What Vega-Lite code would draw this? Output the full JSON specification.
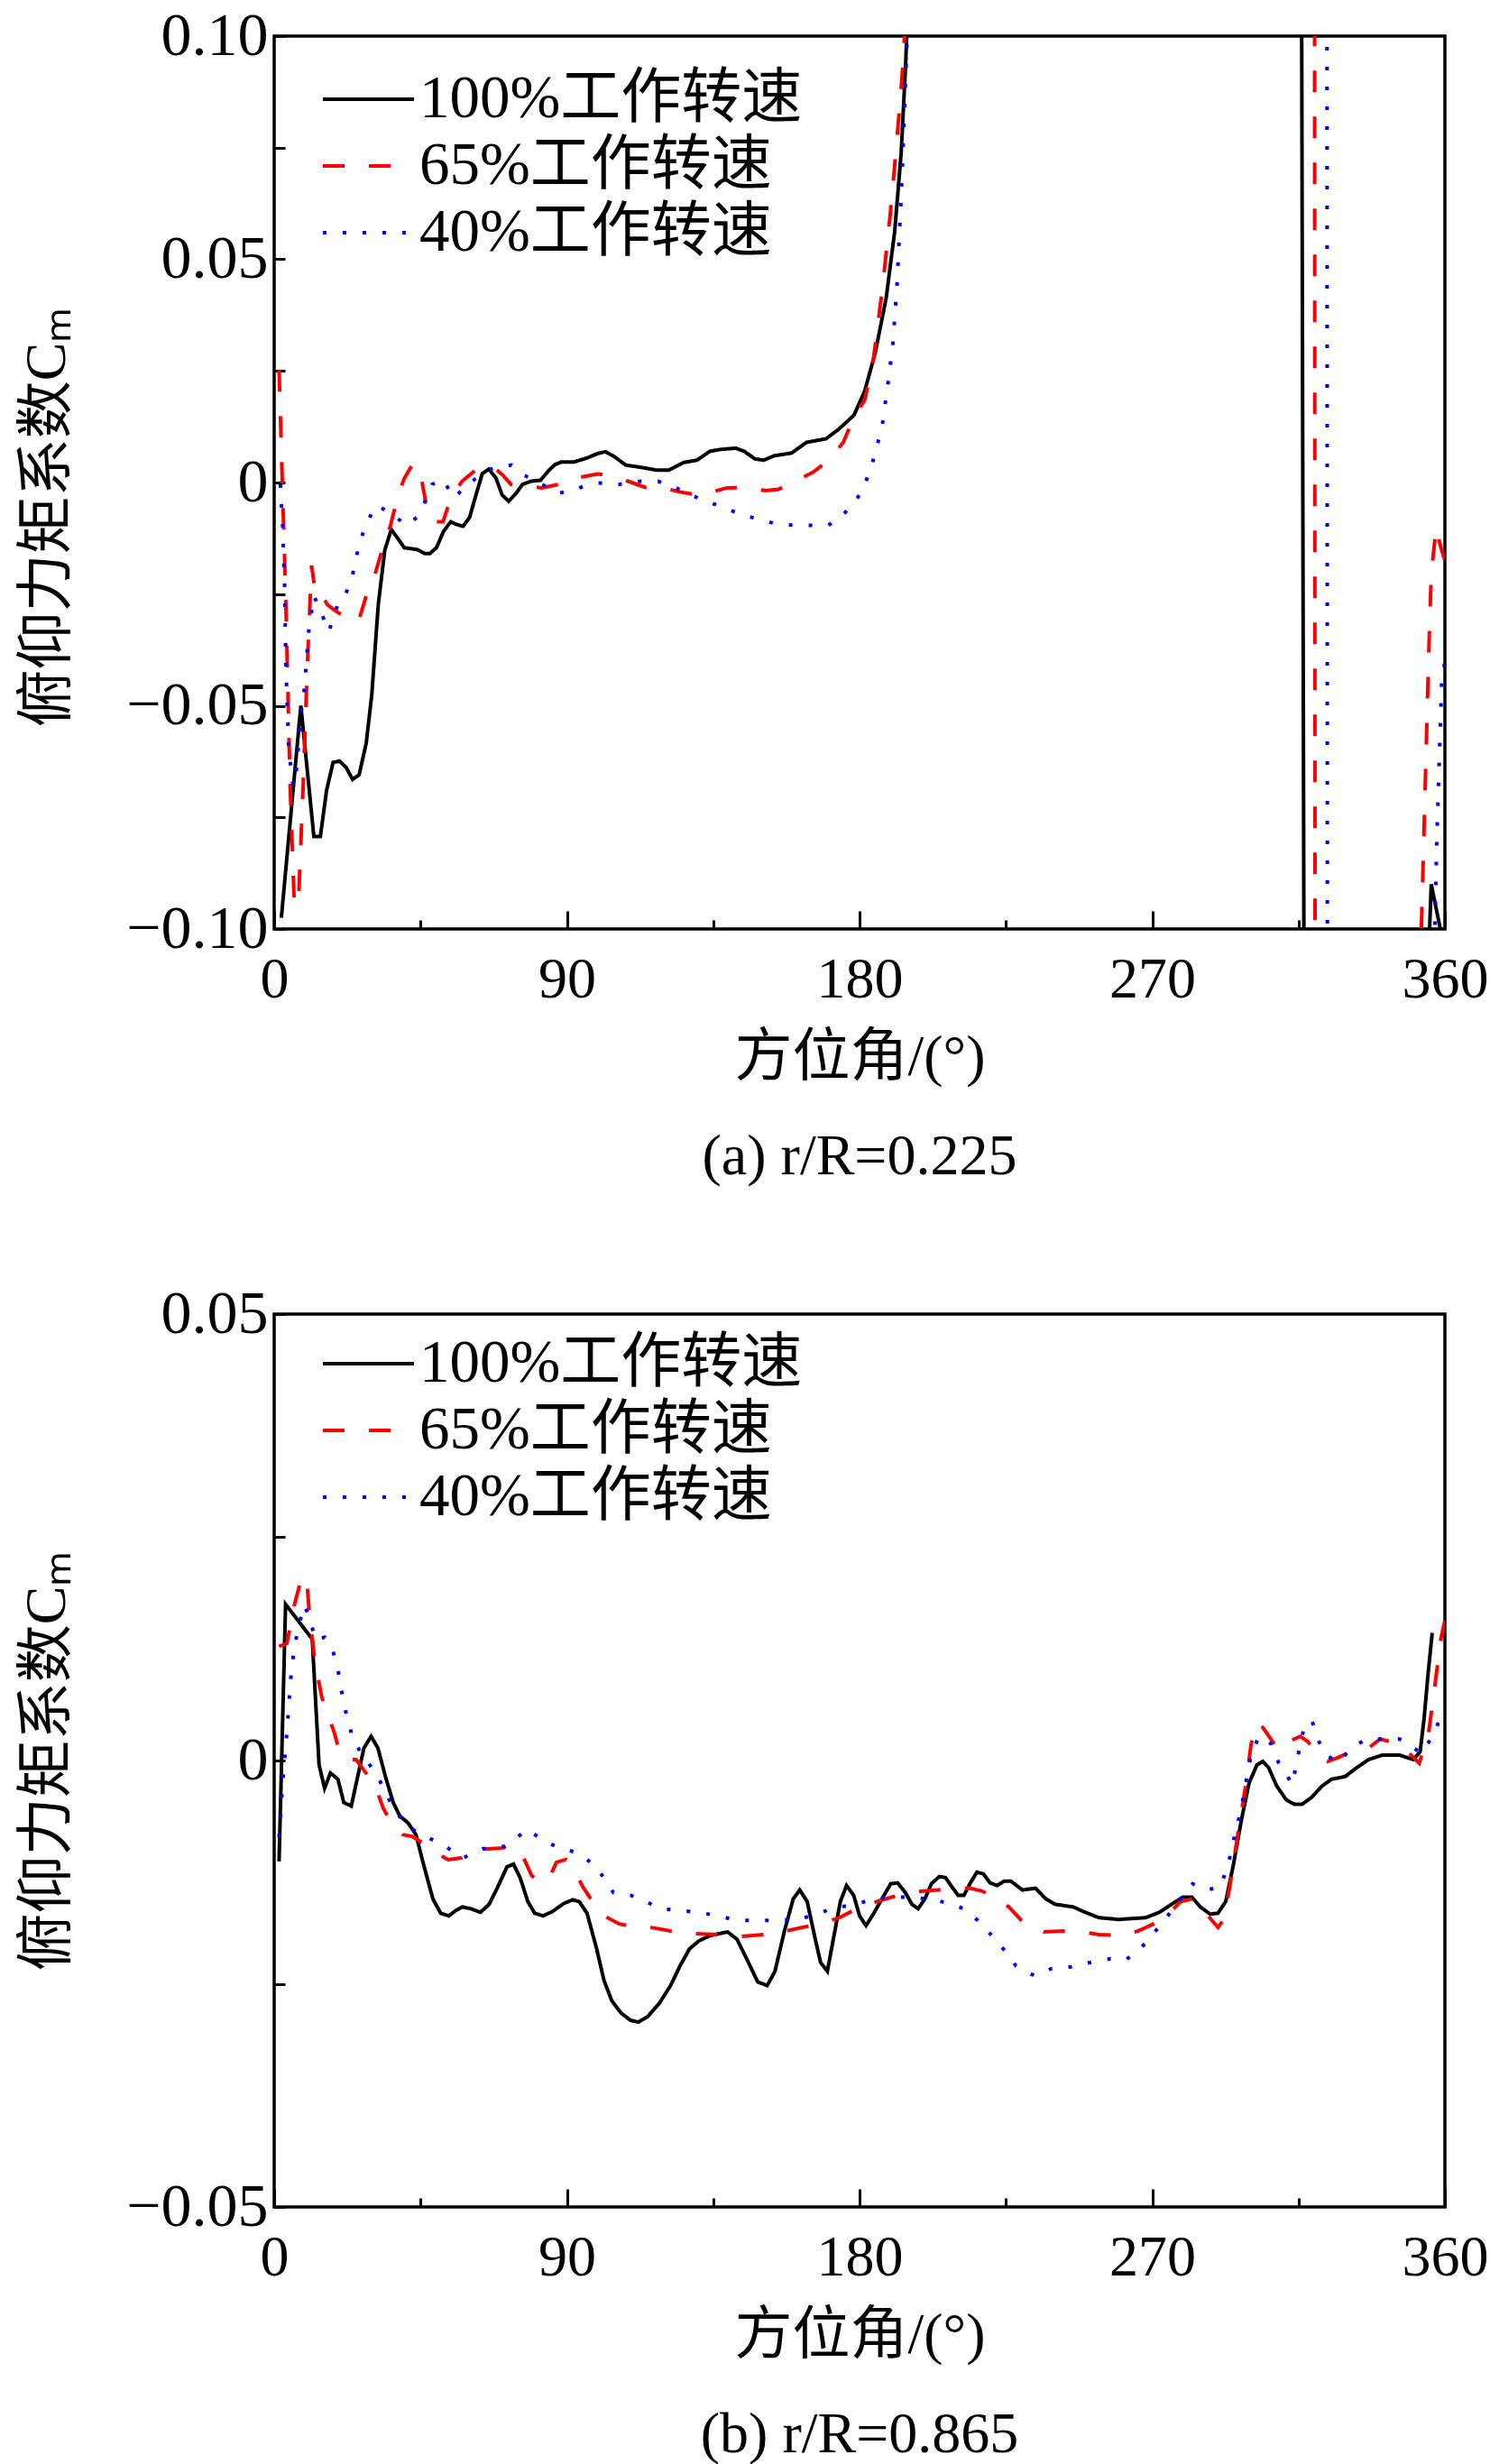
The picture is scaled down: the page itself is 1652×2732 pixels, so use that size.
{
  "$schema": "https://vega.github.io/schema/vega-lite/v6.json",
  "background": "white",
  "padding": {"left": 18, "top": 4, "right": 20, "bottom": 10},
  "bounds": "flush",
  "spacing": 427,
  "config": {
    "font": "Liberation Serif",
    "view": {"stroke": "black", "strokeWidth": 3.5},
    "axis": {
      "domain": false, "grid": false,
      "labelFont": "Liberation Serif", "labelFontSize": 64, "labelColor": "black",
      "titleFont": "Liberation Serif, Noto Sans CJK SC", "titleFontSize": 64, "titleFontWeight": "normal", "titleColor": "black",
      "tickColor": "black", "tickWidth": 3,
      "labelOverlap": false, "labelFlush": false, "labelBound": false
    },
    "axisY": {"labelFontSize": 68},
    "legend": {
      "orient": "none", "legendX": 52, "legendY": 33, "title": null, "padding": 0,
      "symbolType": "stroke", "symbolSize": 10201, "symbolStrokeWidth": 4,
      "labelFont": "Liberation Serif, Noto Sans CJK SC", "labelFontSize": 67, "labelColor": "black",
      "labelOffset": 4, "rowPadding": 0, "clipHeight": 74, "labelLimit": 0
    },
    "title": {"font": "Liberation Serif", "fontSize": 64, "fontWeight": "normal", "color": "black"}
  },
  "resolve": {"scale": {"x": "independent", "y": "independent", "color": "independent", "strokeDash": "independent"}},
  "datasets": {
    "top": [
      {"s":"100%工作转速","a":2.2,"v":-0.0975},{"s":"100%工作转速","a":8.2,"v":-0.05},{"s":"100%工作转速","a":12.2,"v":-0.0793},{"s":"100%工作转速","a":14.2,"v":-0.0793},{"s":"100%工作转速","a":16.1,"v":-0.069},{"s":"100%工作转速","a":18.1,"v":-0.0627},{"s":"100%工作转速","a":20.1,"v":-0.0624},{"s":"100%工作转速","a":22.1,"v":-0.0638},{"s":"100%工作转速","a":24.1,"v":-0.0665},{"s":"100%工作转速","a":26.1,"v":-0.0655},{"s":"100%工作转速","a":28.3,"v":-0.0584},{"s":"100%工作转速","a":30,"v":-0.0476},{"s":"100%工作转速","a":32,"v":-0.0274},{"s":"100%工作转速","a":34,"v":-0.0152},{"s":"100%工作转速","a":36,"v":-0.0105},{"s":"100%工作转速","a":38,"v":-0.0125},{"s":"100%工作转速","a":40,"v":-0.0146},{"s":"100%工作转速","a":43.9,"v":-0.015},{"s":"100%工作转速","a":46.3,"v":-0.0159},{"s":"100%工作转速","a":47.9,"v":-0.0159},{"s":"100%工作转速","a":49.9,"v":-0.0146},{"s":"100%工作转速","a":52.1,"v":-0.0109},{"s":"100%工作转速","a":54.3,"v":-0.0088},{"s":"100%工作转速","a":56.1,"v":-0.0094},{"s":"100%工作转速","a":58.1,"v":-0.0098},{"s":"100%工作转速","a":60.1,"v":-0.0078},{"s":"100%工作转速","a":62.2,"v":-0.0024},{"s":"100%工作转速","a":64,"v":0.002},{"s":"100%工作转速","a":66,"v":0.003},{"s":"100%工作转速","a":68.2,"v":0.001},{"s":"100%工作转速","a":70.1,"v":-0.0028},{"s":"100%工作转速","a":72.1,"v":-0.0042},{"s":"100%工作转速","a":74.4,"v":-0.0024},{"s":"100%工作转速","a":76.4,"v":-0.0004},{"s":"100%工作转速","a":79,"v":0.0003},{"s":"100%工作转速","a":81.9,"v":0.0005},{"s":"100%工作转速","a":84.3,"v":0.0026},{"s":"100%工作转速","a":86.3,"v":0.004},{"s":"100%工作转速","a":88.3,"v":0.0046},{"s":"100%工作转速","a":92.2,"v":0.0046},{"s":"100%工作转速","a":96.2,"v":0.0055},{"s":"100%工作转速","a":99.5,"v":0.0065},{"s":"100%工作转速","a":101.9,"v":0.0069},{"s":"100%工作转速","a":104.8,"v":0.0057},{"s":"100%工作转速","a":108.1,"v":0.0039},{"s":"100%工作转速","a":112.8,"v":0.0034},{"s":"100%工作转速","a":117.4,"v":0.0028},{"s":"100%工作转速","a":121.4,"v":0.0028},{"s":"100%工作转速","a":126,"v":0.0045},{"s":"100%工作转速","a":130,"v":0.005},{"s":"100%工作转速","a":134,"v":0.007},{"s":"100%工作转速","a":137.2,"v":0.0074},{"s":"100%工作转速","a":141.9,"v":0.0077},{"s":"100%工作转速","a":144.5,"v":0.007},{"s":"100%工作转速","a":147.8,"v":0.0053},{"s":"100%工作转速","a":150.5,"v":0.005},{"s":"100%工作转速","a":153.8,"v":0.006},{"s":"100%工作转速","a":159.1,"v":0.0066},{"s":"100%工作转速","a":163.7,"v":0.009},{"s":"100%工作转速","a":169.7,"v":0.0098},{"s":"100%工作转速","a":173.7,"v":0.012},{"s":"100%工作转速","a":178.3,"v":0.0151},{"s":"100%工作转速","a":181.6,"v":0.0205},{"s":"100%工作转速","a":184.9,"v":0.0293},{"s":"100%工作转速","a":188.2,"v":0.0414},{"s":"100%工作转速","a":190.8,"v":0.0562},{"s":"100%工作转速","a":192.8,"v":0.0738},{"s":"100%工作转速","a":194.2,"v":0.094},{"s":"100%工作转速","a":195.5,"v":0.12},{"s":"100%工作转速","a":315.8,"v":0.15},{"s":"100%工作转速","a":316.8,"v":-0.15},{"s":"100%工作转速","a":354.3,"v":-0.12},{"s":"100%工作转速","a":355.8,"v":-0.09},{"s":"100%工作转速","a":358.6,"v":-0.1},{"s":"100%工作转速","a":360,"v":-0.115},
      {"s":"65%工作转速","a":1.5,"v":0.0252},{"s":"65%工作转速","a":3.6,"v":-0.0274},{"s":"65%工作转速","a":4.9,"v":-0.068},{"s":"65%工作转速","a":6.2,"v":-0.0948},{"s":"65%工作转速","a":7.5,"v":-0.0935},{"s":"65%工作转速","a":8.9,"v":-0.068},{"s":"65%工作转速","a":10.2,"v":-0.041},{"s":"65%工作转速","a":11.5,"v":-0.0186},{"s":"65%工作转速","a":12.8,"v":-0.0254},{"s":"65%工作转速","a":14.8,"v":-0.0254},{"s":"65%工作转速","a":16.4,"v":-0.0274},{"s":"65%工作转速","a":18.8,"v":-0.0287},{"s":"65%工作转速","a":22.1,"v":-0.0303},{"s":"65%工作转速","a":24.4,"v":-0.0314},{"s":"65%工作转速","a":26.1,"v":-0.0307},{"s":"65%工作转速","a":28.3,"v":-0.0254},{"s":"65%工作转速","a":30.7,"v":-0.0213},{"s":"65%工作转速","a":33.4,"v":-0.0146},{"s":"65%工作转速","a":35.7,"v":-0.0098},{"s":"65%工作转速","a":38,"v":-0.0031},{"s":"65%工作转速","a":40,"v":0.0009},{"s":"65%工作转速","a":42.4,"v":0.0039},{"s":"65%工作转速","a":44.6,"v":0.0036},{"s":"65%工作转速","a":46.6,"v":-0.0044},{"s":"65%工作转速","a":48.6,"v":-0.0088},{"s":"65%工作转速","a":51.9,"v":-0.0088},{"s":"65%工作转速","a":54.5,"v":-0.0031},{"s":"65%工作转速","a":57.8,"v":0.0003},{"s":"65%工作转速","a":61.1,"v":0.0023},{"s":"65%工作转速","a":63.8,"v":0.0036},{"s":"65%工作转速","a":67.8,"v":0.0032},{"s":"65%工作转速","a":70.4,"v":0.0016},{"s":"65%工作转速","a":72.8,"v":-0.0004},{"s":"65%工作转速","a":78.3,"v":-0.0008},{"s":"65%工作转速","a":82.3,"v":-0.0012},{"s":"65%工作转速","a":87.6,"v":-0.0004},{"s":"65%工作转速","a":94.2,"v":0.0012},{"s":"65%工作转速","a":99.5,"v":0.0019},{"s":"65%工作转速","a":103.5,"v":0.0015},{"s":"65%工作转速","a":108.8,"v":0.0003},{"s":"65%工作转速","a":114.1,"v":-0.0011},{"s":"65%工作转速","a":119.4,"v":-0.0011},{"s":"65%工作转速","a":124,"v":-0.002},{"s":"65%工作转速","a":130,"v":-0.0028},{"s":"65%工作转速","a":135.3,"v":-0.002},{"s":"65%工作转速","a":139.2,"v":-0.0012},{"s":"65%工作转速","a":144.5,"v":-0.0011},{"s":"65%工作转速","a":151.1,"v":-0.0018},{"s":"65%工作转速","a":155.1,"v":-0.0015},{"s":"65%工作转速","a":160.4,"v":0.0003},{"s":"65%工作转速","a":165.7,"v":0.0023},{"s":"65%工作转速","a":171,"v":0.0053},{"s":"65%工作转速","a":175,"v":0.009},{"s":"65%工作转速","a":178.3,"v":0.0147},{"s":"65%工作转速","a":181.6,"v":0.0185},{"s":"65%工作转速","a":184.2,"v":0.0272},{"s":"65%工作转速","a":186.9,"v":0.0427},{"s":"65%工作转速","a":189.3,"v":0.059},{"s":"65%工作转速","a":190.8,"v":0.071},{"s":"65%工作转速","a":192.2,"v":0.083},{"s":"65%工作转速","a":193.5,"v":0.095},{"s":"65%工作转速","a":195,"v":0.12},{"s":"65%工作转速","a":319.9,"v":0.15},{"s":"65%工作转速","a":320.1,"v":-0.15},{"s":"65%工作转速","a":352.4,"v":-0.11},{"s":"65%工作转速","a":355,"v":-0.039},{"s":"65%工作转速","a":355.8,"v":-0.0206},{"s":"65%工作转速","a":357.3,"v":-0.01},{"s":"65%工作转速","a":358.7,"v":-0.0144},{"s":"65%工作转速","a":360,"v":-0.0175},
      {"s":"40%工作转速","a":1.9,"v":-0.0004},{"s":"40%工作转速","a":2.6,"v":-0.0098},{"s":"40%工作转速","a":3.2,"v":-0.023},{"s":"40%工作转速","a":3.6,"v":-0.041},{"s":"40%工作转速","a":4.5,"v":-0.06},{"s":"40%工作转速","a":5.8,"v":-0.068},{"s":"40%工作转速","a":6.9,"v":-0.064},{"s":"40%工作转速","a":8.2,"v":-0.052},{"s":"40%工作转速","a":9.3,"v":-0.046},{"s":"40%工作转速","a":10.6,"v":-0.0334},{"s":"40%工作转速","a":12.2,"v":-0.0254},{"s":"40%工作转速","a":14.2,"v":-0.0287},{"s":"40%工作转速","a":16.8,"v":-0.0334},{"s":"40%工作转速","a":19.5,"v":-0.0274},{"s":"40%工作转速","a":21.4,"v":-0.026},{"s":"40%工作转速","a":23.8,"v":-0.0217},{"s":"40%工作转速","a":26.1,"v":-0.0139},{"s":"40%工作转速","a":28.3,"v":-0.0092},{"s":"40%工作转速","a":31.4,"v":-0.0051},{"s":"40%工作转速","a":36,"v":-0.0069},{"s":"40%工作转速","a":40.6,"v":-0.0096},{"s":"40%工作转速","a":43.9,"v":-0.0078},{"s":"40%工作转速","a":46.3,"v":-0.0044},{"s":"40%工作转速","a":48.6,"v":-0.0004},{"s":"40%工作转速","a":51.9,"v":0.0007},{"s":"40%工作转速","a":55.2,"v":-0.0034},{"s":"40%工作转速","a":59.8,"v":-0.0004},{"s":"40%工作转速","a":63.8,"v":0.002},{"s":"40%工作转速","a":67.8,"v":0.0034},{"s":"40%工作转速","a":73,"v":0.0039},{"s":"40%工作转速","a":77,"v":0.0016},{"s":"40%工作转速","a":82.3,"v":-0.0004},{"s":"40%工作转速","a":87.6,"v":-0.0024},{"s":"40%工作转速","a":94.2,"v":-0.0011},{"s":"40%工作转速","a":99.5,"v":-0.0001},{"s":"40%工作转速","a":106.1,"v":-0.0004},{"s":"40%工作转速","a":112.8,"v":0.0003},{"s":"40%工作转速","a":118,"v":0.0003},{"s":"40%工作转速","a":123.3,"v":-0.0011},{"s":"40%工作转速","a":131.3,"v":-0.0038},{"s":"40%工作转速","a":137.9,"v":-0.0055},{"s":"40%工作转速","a":144.5,"v":-0.0074},{"s":"40%工作转速","a":149.1,"v":-0.0082},{"s":"40%工作转速","a":154.4,"v":-0.0093},{"s":"40%工作转速","a":160.4,"v":-0.0096},{"s":"40%工作转速","a":165.7,"v":-0.0096},{"s":"40%工作转速","a":170.3,"v":-0.0096},{"s":"40%工作转速","a":174.3,"v":-0.0078},{"s":"40%工作转速","a":178.3,"v":-0.0044},{"s":"40%工作转速","a":180.9,"v":-0.002},{"s":"40%工作转速","a":184.2,"v":0.005},{"s":"40%工作转速","a":186.9,"v":0.0124},{"s":"40%工作转速","a":188.8,"v":0.0225},{"s":"40%工作转速","a":190.2,"v":0.0306},{"s":"40%工作转速","a":191.5,"v":0.044},{"s":"40%工作转速","a":192.8,"v":0.064},{"s":"40%工作转速","a":193.8,"v":0.083},{"s":"40%工作转速","a":194.5,"v":0.097},{"s":"40%工作转速","a":195.2,"v":0.12},{"s":"40%工作转速","a":323.7,"v":0.15},{"s":"40%工作转速","a":323.9,"v":-0.15},{"s":"40%工作转速","a":356.3,"v":-0.12},{"s":"40%工作转速","a":357.5,"v":-0.08},{"s":"40%工作转速","a":359,"v":-0.045},{"s":"40%工作转速","a":360,"v":-0.04}
    ],
    "bot": [
      {"s":"100%工作转速","a":1.5,"v":-0.0113},{"s":"100%工作转速","a":3.5,"v":0.0175},{"s":"100%工作转速","a":11.7,"v":0.0136},{"s":"100%工作转速","a":13.8,"v":-0.0005},{"s":"100%工作转速","a":15.5,"v":-0.0031},{"s":"100%工作转速","a":17.3,"v":-0.0014},{"s":"100%工作转速","a":19.6,"v":-0.0021},{"s":"100%工作转速","a":21.4,"v":-0.0047},{"s":"100%工作转速","a":23.7,"v":-0.0051},{"s":"100%工作转速","a":25.5,"v":-0.0021},{"s":"100%工作转速","a":27.6,"v":0.0014},{"s":"100%工作转速","a":29.8,"v":0.0027},{"s":"100%工作转速","a":31.9,"v":0.0014},{"s":"100%工作转速","a":34.2,"v":-0.0018},{"s":"100%工作转速","a":36.6,"v":-0.0047},{"s":"100%工作转速","a":38.6,"v":-0.0062},{"s":"100%工作转速","a":41.2,"v":-0.007},{"s":"100%工作转速","a":43.6,"v":-0.0083},{"s":"100%工作转速","a":45.9,"v":-0.0116},{"s":"100%工作转速","a":48.8,"v":-0.0155},{"s":"100%工作转速","a":51.2,"v":-0.0171},{"s":"100%工作转速","a":53.7,"v":-0.0174},{"s":"100%工作转速","a":55.8,"v":-0.0168},{"s":"100%工作转速","a":57.9,"v":-0.0164},{"s":"100%工作转速","a":60.5,"v":-0.0166},{"s":"100%工作转速","a":63.4,"v":-0.017},{"s":"100%工作转速","a":66.1,"v":-0.0161},{"s":"100%工作转速","a":68.7,"v":-0.0142},{"s":"100%工作转速","a":71.6,"v":-0.0119},{"s":"100%工作转速","a":73.6,"v":-0.0116},{"s":"100%工作转速","a":75.7,"v":-0.0132},{"s":"100%工作转速","a":78,"v":-0.0158},{"s":"100%工作转速","a":80.1,"v":-0.0171},{"s":"100%工作转速","a":82.7,"v":-0.0174},{"s":"100%工作转速","a":85.6,"v":-0.0169},{"s":"100%工作转速","a":89.1,"v":-0.016},{"s":"100%工作转速","a":91.8,"v":-0.0156},{"s":"100%工作转速","a":93.8,"v":-0.0158},{"s":"100%工作转速","a":96.2,"v":-0.0171},{"s":"100%工作转速","a":99.1,"v":-0.021},{"s":"100%工作转速","a":101.4,"v":-0.0246},{"s":"100%工作转速","a":103.8,"v":-0.0269},{"s":"100%工作转速","a":106.7,"v":-0.0283},{"s":"100%工作转速","a":109.6,"v":-0.0291},{"s":"100%工作转速","a":112,"v":-0.0293},{"s":"100%工作转速","a":114.8,"v":-0.0287},{"s":"100%工作转速","a":118.4,"v":-0.0272},{"s":"100%工作转速","a":121.9,"v":-0.0252},{"s":"100%工作转速","a":124.8,"v":-0.023},{"s":"100%工作转速","a":127.7,"v":-0.0211},{"s":"100%工作转速","a":130.6,"v":-0.0202},{"s":"100%工作转速","a":134.1,"v":-0.0196},{"s":"100%工作转速","a":139.4,"v":-0.0192},{"s":"100%工作转速","a":142.3,"v":-0.02},{"s":"100%工作转速","a":145.8,"v":-0.0226},{"s":"100%工作转速","a":148.7,"v":-0.0248},{"s":"100%工作转速","a":151.6,"v":-0.0252},{"s":"100%工作转速","a":154,"v":-0.0236},{"s":"100%工作转速","a":156.9,"v":-0.0191},{"s":"100%工作转速","a":159.6,"v":-0.0155},{"s":"100%工作转速","a":161.6,"v":-0.0145},{"s":"100%工作转速","a":163.9,"v":-0.0158},{"s":"100%工作转速","a":166.2,"v":-0.0197},{"s":"100%工作转速","a":168,"v":-0.0226},{"s":"100%工作转速","a":170.1,"v":-0.0236},{"s":"100%工作转速","a":172.1,"v":-0.0197},{"s":"100%工作转速","a":174.1,"v":-0.0158},{"s":"100%工作转速","a":176,"v":-0.014},{"s":"100%工作转速","a":178.2,"v":-0.0151},{"s":"100%工作转速","a":180,"v":-0.0174},{"s":"100%工作转速","a":182,"v":-0.0185},{"s":"100%工作转速","a":184.4,"v":-0.0171},{"s":"100%工作转速","a":187.2,"v":-0.0153},{"s":"100%工作转速","a":189.6,"v":-0.0138},{"s":"100%工作转速","a":191.7,"v":-0.0137},{"s":"100%工作转速","a":194.1,"v":-0.0148},{"s":"100%工作转速","a":196.1,"v":-0.0161},{"s":"100%工作转速","a":198,"v":-0.0166},{"s":"100%工作转速","a":200.1,"v":-0.0155},{"s":"100%工作转速","a":202.1,"v":-0.0138},{"s":"100%工作转速","a":204.5,"v":-0.013},{"s":"100%工作转速","a":206.4,"v":-0.0131},{"s":"100%工作转速","a":208.5,"v":-0.0142},{"s":"100%工作转速","a":210.3,"v":-0.0151},{"s":"100%工作转速","a":212.1,"v":-0.0151},{"s":"100%工作转速","a":214.1,"v":-0.0137},{"s":"100%工作转速","a":216.1,"v":-0.0125},{"s":"100%工作转速","a":218.1,"v":-0.0127},{"s":"100%工作转速","a":220.1,"v":-0.0137},{"s":"100%工作转速","a":222.3,"v":-0.014},{"s":"100%工作转速","a":224.5,"v":-0.0135},{"s":"100%工作转速","a":226.5,"v":-0.0135},{"s":"100%工作转速","a":230.1,"v":-0.0145},{"s":"100%工作转速","a":234.1,"v":-0.0143},{"s":"100%工作转速","a":237.3,"v":-0.0155},{"s":"100%工作转速","a":240.1,"v":-0.0161},{"s":"100%工作转速","a":245.7,"v":-0.0164},{"s":"100%工作转速","a":249.4,"v":-0.017},{"s":"100%工作转速","a":253.6,"v":-0.0176},{"s":"100%工作转速","a":259.6,"v":-0.0178},{"s":"100%工作转速","a":268,"v":-0.0176},{"s":"100%工作转速","a":272.2,"v":-0.017},{"s":"100%工作转速","a":276.4,"v":-0.016},{"s":"100%工作转速","a":279.4,"v":-0.0153},{"s":"100%工作转速","a":282.2,"v":-0.0153},{"s":"100%工作转速","a":284.8,"v":-0.0164},{"s":"100%工作转速","a":287.8,"v":-0.0172},{"s":"100%工作转速","a":290.2,"v":-0.0171},{"s":"100%工作转速","a":292.6,"v":-0.0158},{"s":"100%工作转速","a":295,"v":-0.0116},{"s":"100%工作转速","a":297.4,"v":-0.0067},{"s":"100%工作转速","a":299.8,"v":-0.0025},{"s":"100%工作转速","a":302.2,"v":-0.0005},{"s":"100%工作转速","a":304,"v":-0.0001},{"s":"100%工作转速","a":305.8,"v":-0.0008},{"s":"100%工作转速","a":308.2,"v":-0.0028},{"s":"100%工作转速","a":311.2,"v":-0.0044},{"s":"100%工作转速","a":313.7,"v":-0.0049},{"s":"100%工作转速","a":316.1,"v":-0.0049},{"s":"100%工作转速","a":319.1,"v":-0.0041},{"s":"100%工作转速","a":322.1,"v":-0.0029},{"s":"100%工作转速","a":325.1,"v":-0.0021},{"s":"100%工作转速","a":329.3,"v":-0.0018},{"s":"100%工作转速","a":332.9,"v":-0.0008},{"s":"100%工作转速","a":336.5,"v":0.0001},{"s":"100%工作转速","a":340.7,"v":0.0006},{"s":"100%工作转速","a":346.1,"v":0.0006},{"s":"100%工作转速","a":350.3,"v":0.0001},{"s":"100%工作转速","a":352.4,"v":0.001},{"s":"100%工作转速","a":353.6,"v":0.0047},{"s":"100%工作转速","a":354.8,"v":0.0096},{"s":"100%工作转速","a":356.1,"v":0.0143},
      {"s":"65%工作转速","a":1.5,"v":0.0128},{"s":"65%工作转速","a":3.9,"v":0.0131},{"s":"65%工作转速","a":6.2,"v":0.0174},{"s":"65%工作转速","a":8.5,"v":0.0206},{"s":"65%工作转速","a":10,"v":0.0203},{"s":"65%工作转速","a":10.9,"v":0.0161},{"s":"65%工作转速","a":12.6,"v":0.0109},{"s":"65%工作转速","a":14.7,"v":0.007},{"s":"65%工作转速","a":16.7,"v":0.005},{"s":"65%工作转速","a":18.5,"v":0.0031},{"s":"65%工作转速","a":20.2,"v":0.0008},{"s":"65%工作转速","a":22,"v":0.0001},{"s":"65%工作转速","a":25.2,"v":0.0001},{"s":"65%工作转速","a":28.4,"v":-0.0015},{"s":"65%工作转速","a":31.3,"v":-0.0031},{"s":"65%工作转速","a":33.6,"v":-0.0054},{"s":"65%工作转速","a":36.6,"v":-0.0073},{"s":"65%工作转速","a":39.5,"v":-0.0083},{"s":"65%工作转速","a":42.4,"v":-0.0085},{"s":"65%工作转速","a":45.9,"v":-0.0093},{"s":"65%工作转速","a":49.4,"v":-0.0103},{"s":"65%工作转速","a":53.5,"v":-0.0111},{"s":"65%工作转速","a":57.6,"v":-0.0109},{"s":"65%工作转速","a":61.7,"v":-0.0099},{"s":"65%工作转速","a":65.8,"v":-0.0099},{"s":"65%工作转速","a":69.9,"v":-0.0098},{"s":"65%工作转速","a":73.4,"v":-0.0096},{"s":"65%工作转速","a":76.3,"v":-0.0106},{"s":"65%工作转速","a":79.2,"v":-0.0129},{"s":"65%工作转速","a":82.1,"v":-0.0137},{"s":"65%工作转速","a":84.5,"v":-0.0132},{"s":"65%工作转速","a":86.8,"v":-0.0114},{"s":"65%工作转速","a":89.7,"v":-0.0111},{"s":"65%工作转速","a":92.1,"v":-0.0122},{"s":"65%工作转速","a":95,"v":-0.0142},{"s":"65%工作转速","a":97.9,"v":-0.0158},{"s":"65%工作转速","a":101.4,"v":-0.0174},{"s":"65%工作转速","a":106.1,"v":-0.0183},{"s":"65%工作转速","a":111.3,"v":-0.0187},{"s":"65%工作转速","a":116,"v":-0.0187},{"s":"65%工作转速","a":123.6,"v":-0.0192},{"s":"65%工作转速","a":129.4,"v":-0.0194},{"s":"65%工作转速","a":136.5,"v":-0.0195},{"s":"65%工作转速","a":143.5,"v":-0.0197},{"s":"65%工作转速","a":150.5,"v":-0.0195},{"s":"65%工作转速","a":156.3,"v":-0.0192},{"s":"65%工作转速","a":162.2,"v":-0.0187},{"s":"65%工作转速","a":168,"v":-0.0183},{"s":"65%工作转速","a":173.8,"v":-0.0176},{"s":"65%工作转速","a":180.2,"v":-0.0164},{"s":"65%工作转速","a":186.2,"v":-0.0157},{"s":"65%工作转速","a":189.9,"v":-0.0153},{"s":"65%工作转速","a":194.7,"v":-0.0148},{"s":"65%工作转速","a":200.7,"v":-0.0146},{"s":"65%工作转速","a":206.7,"v":-0.0144},{"s":"65%工作转速","a":213.9,"v":-0.0143},{"s":"65%工作转速","a":217.5,"v":-0.0146},{"s":"65%工作转速","a":221.7,"v":-0.0153},{"s":"65%工作转速","a":225.9,"v":-0.0164},{"s":"65%工作转速","a":229.5,"v":-0.0178},{"s":"65%工作转速","a":233.1,"v":-0.0187},{"s":"65%工作转速","a":236.7,"v":-0.0192},{"s":"65%工作转速","a":242.7,"v":-0.0191},{"s":"65%工作转速","a":248.8,"v":-0.0192},{"s":"65%工作转速","a":253.6,"v":-0.0195},{"s":"65%工作转速","a":260.8,"v":-0.0196},{"s":"65%工作转速","a":265.6,"v":-0.0191},{"s":"65%工作转速","a":270.4,"v":-0.0183},{"s":"65%工作转速","a":275.2,"v":-0.0171},{"s":"65%工作转速","a":278.8,"v":-0.0158},{"s":"65%工作转速","a":282.4,"v":-0.0155},{"s":"65%工作转速","a":284.8,"v":-0.0164},{"s":"65%工作转速","a":287.2,"v":-0.0174},{"s":"65%工作转速","a":290.2,"v":-0.0187},{"s":"65%工作转速","a":292,"v":-0.0178},{"s":"65%工作转速","a":293.8,"v":-0.0142},{"s":"65%工作转速","a":296.2,"v":-0.0086},{"s":"65%工作转速","a":298.6,"v":-0.0031},{"s":"65%工作转速","a":300.4,"v":0.0018},{"s":"65%工作转速","a":301.9,"v":0.0042},{"s":"65%工作转速","a":304,"v":0.0037},{"s":"65%工作转速","a":306.5,"v":0.0024},{"s":"65%工作转速","a":308.8,"v":0.0012},{"s":"65%工作转速","a":311.9,"v":0.0021},{"s":"65%工作转速","a":315.5,"v":0.0027},{"s":"65%工作转速","a":317.9,"v":0.0021},{"s":"65%工作转速","a":320.9,"v":0.0005},{"s":"65%工作转速","a":323.9,"v":-0.0001},{"s":"65%工作转速","a":326.9,"v":0.0003},{"s":"65%工作转速","a":331.7,"v":0.0011},{"s":"65%工作转速","a":336.5,"v":0.0014},{"s":"65%工作转速","a":340.1,"v":0.0024},{"s":"65%工作转速","a":344.3,"v":0.002},{"s":"65%工作转速","a":348.5,"v":0.001},{"s":"65%工作转速","a":352.1,"v":-0.0003},{"s":"65%工作转速","a":355,"v":0.0031},{"s":"65%工作转速","a":356.9,"v":0.0083},{"s":"65%工作转速","a":358.7,"v":0.0135},{"s":"65%工作转速","a":360,"v":0.0157},
      {"s":"40%工作转速","a":1.5,"v":-0.0086},{"s":"40%工作转速","a":2.7,"v":-0.0021},{"s":"40%工作转速","a":3.9,"v":0.0031},{"s":"40%工作转速","a":5,"v":0.0089},{"s":"40%工作转速","a":6.2,"v":0.0128},{"s":"40%工作转速","a":9.1,"v":0.0174},{"s":"40%工作转速","a":10.9,"v":0.0161},{"s":"40%工作转速","a":12.6,"v":0.0135},{"s":"40%工作转速","a":15.5,"v":0.0138},{"s":"40%工作转速","a":17.9,"v":0.0125},{"s":"40%工作转速","a":19.6,"v":0.0102},{"s":"40%工作转速","a":21.4,"v":0.0063},{"s":"40%工作转速","a":23.7,"v":0.0031},{"s":"40%工作转速","a":26.6,"v":0.0008},{"s":"40%工作转速","a":31.3,"v":-0.0014},{"s":"40%工作转速","a":36.6,"v":-0.0053},{"s":"40%工作转速","a":40.7,"v":-0.0073},{"s":"40%工作转速","a":45.3,"v":-0.0083},{"s":"40%工作转速","a":51.2,"v":-0.0093},{"s":"40%工作转速","a":58.2,"v":-0.0109},{"s":"40%工作转速","a":64,"v":-0.0099},{"s":"40%工作转速","a":71,"v":-0.0096},{"s":"40%工作转速","a":78,"v":-0.0077},{"s":"40%工作转速","a":82.7,"v":-0.009},{"s":"40%工作转速","a":88.6,"v":-0.0099},{"s":"40%工作转速","a":93.2,"v":-0.0103},{"s":"40%工作转速","a":99.1,"v":-0.0119},{"s":"40%工作转速","a":104.3,"v":-0.0148},{"s":"40%工作转速","a":109.6,"v":-0.0151},{"s":"40%工作转速","a":114.3,"v":-0.0158},{"s":"40%工作转速","a":118.9,"v":-0.0166},{"s":"40%工作转速","a":124.8,"v":-0.0168},{"s":"40%工作转速","a":130.6,"v":-0.017},{"s":"40%工作转速","a":136.4,"v":-0.0174},{"s":"40%工作转速","a":142.3,"v":-0.0179},{"s":"40%工作转速","a":148.1,"v":-0.0179},{"s":"40%工作转速","a":154,"v":-0.0179},{"s":"40%工作转速","a":159.8,"v":-0.0178},{"s":"40%工作转速","a":165.7,"v":-0.0174},{"s":"40%工作转速","a":172.7,"v":-0.0164},{"s":"40%工作转速","a":176.6,"v":-0.0163},{"s":"40%工作转速","a":182.6,"v":-0.0157},{"s":"40%工作转速","a":188.7,"v":-0.0153},{"s":"40%工作转速","a":194.7,"v":-0.0153},{"s":"40%工作转速","a":200.7,"v":-0.0155},{"s":"40%工作转速","a":206.7,"v":-0.0159},{"s":"40%工作转速","a":212.1,"v":-0.0166},{"s":"40%工作转速","a":216.3,"v":-0.0179},{"s":"40%工作转速","a":220.9,"v":-0.0197},{"s":"40%工作转速","a":224.7,"v":-0.0213},{"s":"40%工作转速","a":228.1,"v":-0.023},{"s":"40%工作转速","a":233.7,"v":-0.0241},{"s":"40%工作转速","a":239.1,"v":-0.0233},{"s":"40%工作转速","a":245.1,"v":-0.0231},{"s":"40%工作转速","a":251.2,"v":-0.0226},{"s":"40%工作转速","a":257.2,"v":-0.0222},{"s":"40%工作转速","a":262,"v":-0.0223},{"s":"40%工作转速","a":266.8,"v":-0.0209},{"s":"40%工作转速","a":271,"v":-0.0191},{"s":"40%工作转速","a":275.2,"v":-0.0172},{"s":"40%工作转速","a":278.8,"v":-0.0155},{"s":"40%工作转速","a":282.4,"v":-0.0138},{"s":"40%工作转速","a":286.6,"v":-0.0145},{"s":"40%工作转速","a":290.8,"v":-0.0142},{"s":"40%工作转速","a":293.2,"v":-0.0119},{"s":"40%工作转速","a":295.6,"v":-0.008},{"s":"40%工作转速","a":297.4,"v":-0.0054},{"s":"40%工作转速","a":298.3,"v":-0.0034},{"s":"40%工作转速","a":300.4,"v":0.0006},{"s":"40%工作转速","a":302.8,"v":0.0027},{"s":"40%工作转速","a":306.5,"v":0.0019},{"s":"40%工作转速","a":308.8,"v":-0.0002},{"s":"40%工作转速","a":311.2,"v":-0.0015},{"s":"40%工作转速","a":313,"v":-0.0027},{"s":"40%工作转速","a":314.3,"v":-0.0005},{"s":"40%工作转速","a":315.5,"v":0.0018},{"s":"40%工作转速","a":316.7,"v":0.0037},{"s":"40%工作转速","a":319.1,"v":0.0045},{"s":"40%工作转速","a":320.9,"v":0.0024},{"s":"40%工作转速","a":323.3,"v":0.0006},{"s":"40%工作转速","a":327.5,"v":-0.0002},{"s":"40%工作转速","a":331.1,"v":0.0014},{"s":"40%工作转速","a":335.9,"v":0.0024},{"s":"40%工作转速","a":341.3,"v":0.0024},{"s":"40%工作转速","a":346.1,"v":0.0024},{"s":"40%工作转速","a":349.7,"v":0.0016},{"s":"40%工作转速","a":352.7,"v":0.0008},{"s":"40%工作转速","a":354.5,"v":0.0018},{"s":"40%工作转速","a":356.3,"v":0.0027},{"s":"40%工作转速","a":358.7,"v":0.0049}
    ]
  },
  "vconcat": [
    {
      "width": 1298, "height": 990,
      "data": {"name": "top"},
      "mark": {"type": "line", "clip": true, "strokeWidth": 4},
      "encoding": {
        "x": {"field": "a", "type": "quantitative", "scale": {"domain": [0, 360], "nice": false, "zero": false},
          "axis": {"values": [0,45,90,135,180,225,270,315,360],
            "labelExpr": "datum.value % 90 === 0 ? datum.label : ''",
            "tickSize": {"condition": {"test": "datum.value % 90 === 0", "value": -20}, "value": -10},
            "labelPadding": 44, "title": "方位角/(°)", "titlePadding": 12}},
        "y": {"field": "v", "type": "quantitative", "scale": {"domain": [-0.1, 0.1], "nice": false, "zero": false},
          "axis": {"values": [-0.1,-0.075,-0.05,-0.025,0,0.025,0.05,0.075,0.1],
            "labelExpr": "abs(round(datum.value*1000)) % 50 === 0 ? (abs(datum.value) < 1e-9 ? '0' : format(datum.value, '.2f')) : ''",
            "tickSize": -12, "labelPadding": 19, "title": "俯仰力矩系数Cₘ", "titlePadding": 55, "titleY": 533}},
        "color": {"field": "s", "type": "nominal", "sort": null,
          "scale": {"domain": ["100%工作转速","65%工作转速","40%工作转速"], "range": ["#000000","#ff0000","#0000ff"]},
          "legend": {"legendY": 33}},
        "strokeDash": {"field": "s", "type": "nominal", "sort": null,
          "scale": {"domain": ["100%工作转速","65%工作转速","40%工作转速"], "range": [[1,0],[24,27],[4,18]]},
          "legend": {"legendY": 33}}
      },
      "title": {"text": "(a) r/R=0.225", "orient": "bottom", "frame": "group", "anchor": "middle", "offset": 47}
    },
    {
      "width": 1298, "height": 990,
      "data": {"name": "bot"},
      "mark": {"type": "line", "clip": true, "strokeWidth": 4},
      "encoding": {
        "x": {"field": "a", "type": "quantitative", "scale": {"domain": [0, 360], "nice": false, "zero": false},
          "axis": {"values": [0,45,90,135,180,225,270,315,360],
            "labelExpr": "datum.value % 90 === 0 ? datum.label : ''",
            "tickSize": {"condition": {"test": "datum.value % 90 === 0", "value": -20}, "value": -10},
            "labelPadding": 44, "title": "方位角/(°)", "titlePadding": 12}},
        "y": {"field": "v", "type": "quantitative", "scale": {"domain": [-0.05, 0.05], "nice": false, "zero": false},
          "axis": {"values": [-0.05,-0.025,0,0.025,0.05],
            "labelExpr": "abs(round(datum.value*1000)) % 50 === 0 ? (abs(datum.value) < 1e-9 ? '0' : format(datum.value, '.2f')) : ''",
            "tickSize": -12, "labelPadding": 19, "title": "俯仰力矩系数Cₘ", "titlePadding": 55}},
        "color": {"field": "s", "type": "nominal", "sort": null,
          "scale": {"domain": ["100%工作转速","65%工作转速","40%工作转速"], "range": ["#000000","#ff0000","#0000ff"]},
          "legend": {"legendY": 18}},
        "strokeDash": {"field": "s", "type": "nominal", "sort": null,
          "scale": {"domain": ["100%工作转速","65%工作转速","40%工作转速"], "range": [[1,0],[24,27],[4,18]]},
          "legend": {"legendY": 18}}
      },
      "title": {"text": "(b) r/R=0.865", "orient": "bottom", "frame": "group", "anchor": "middle", "offset": 47}
    }
  ]
}
